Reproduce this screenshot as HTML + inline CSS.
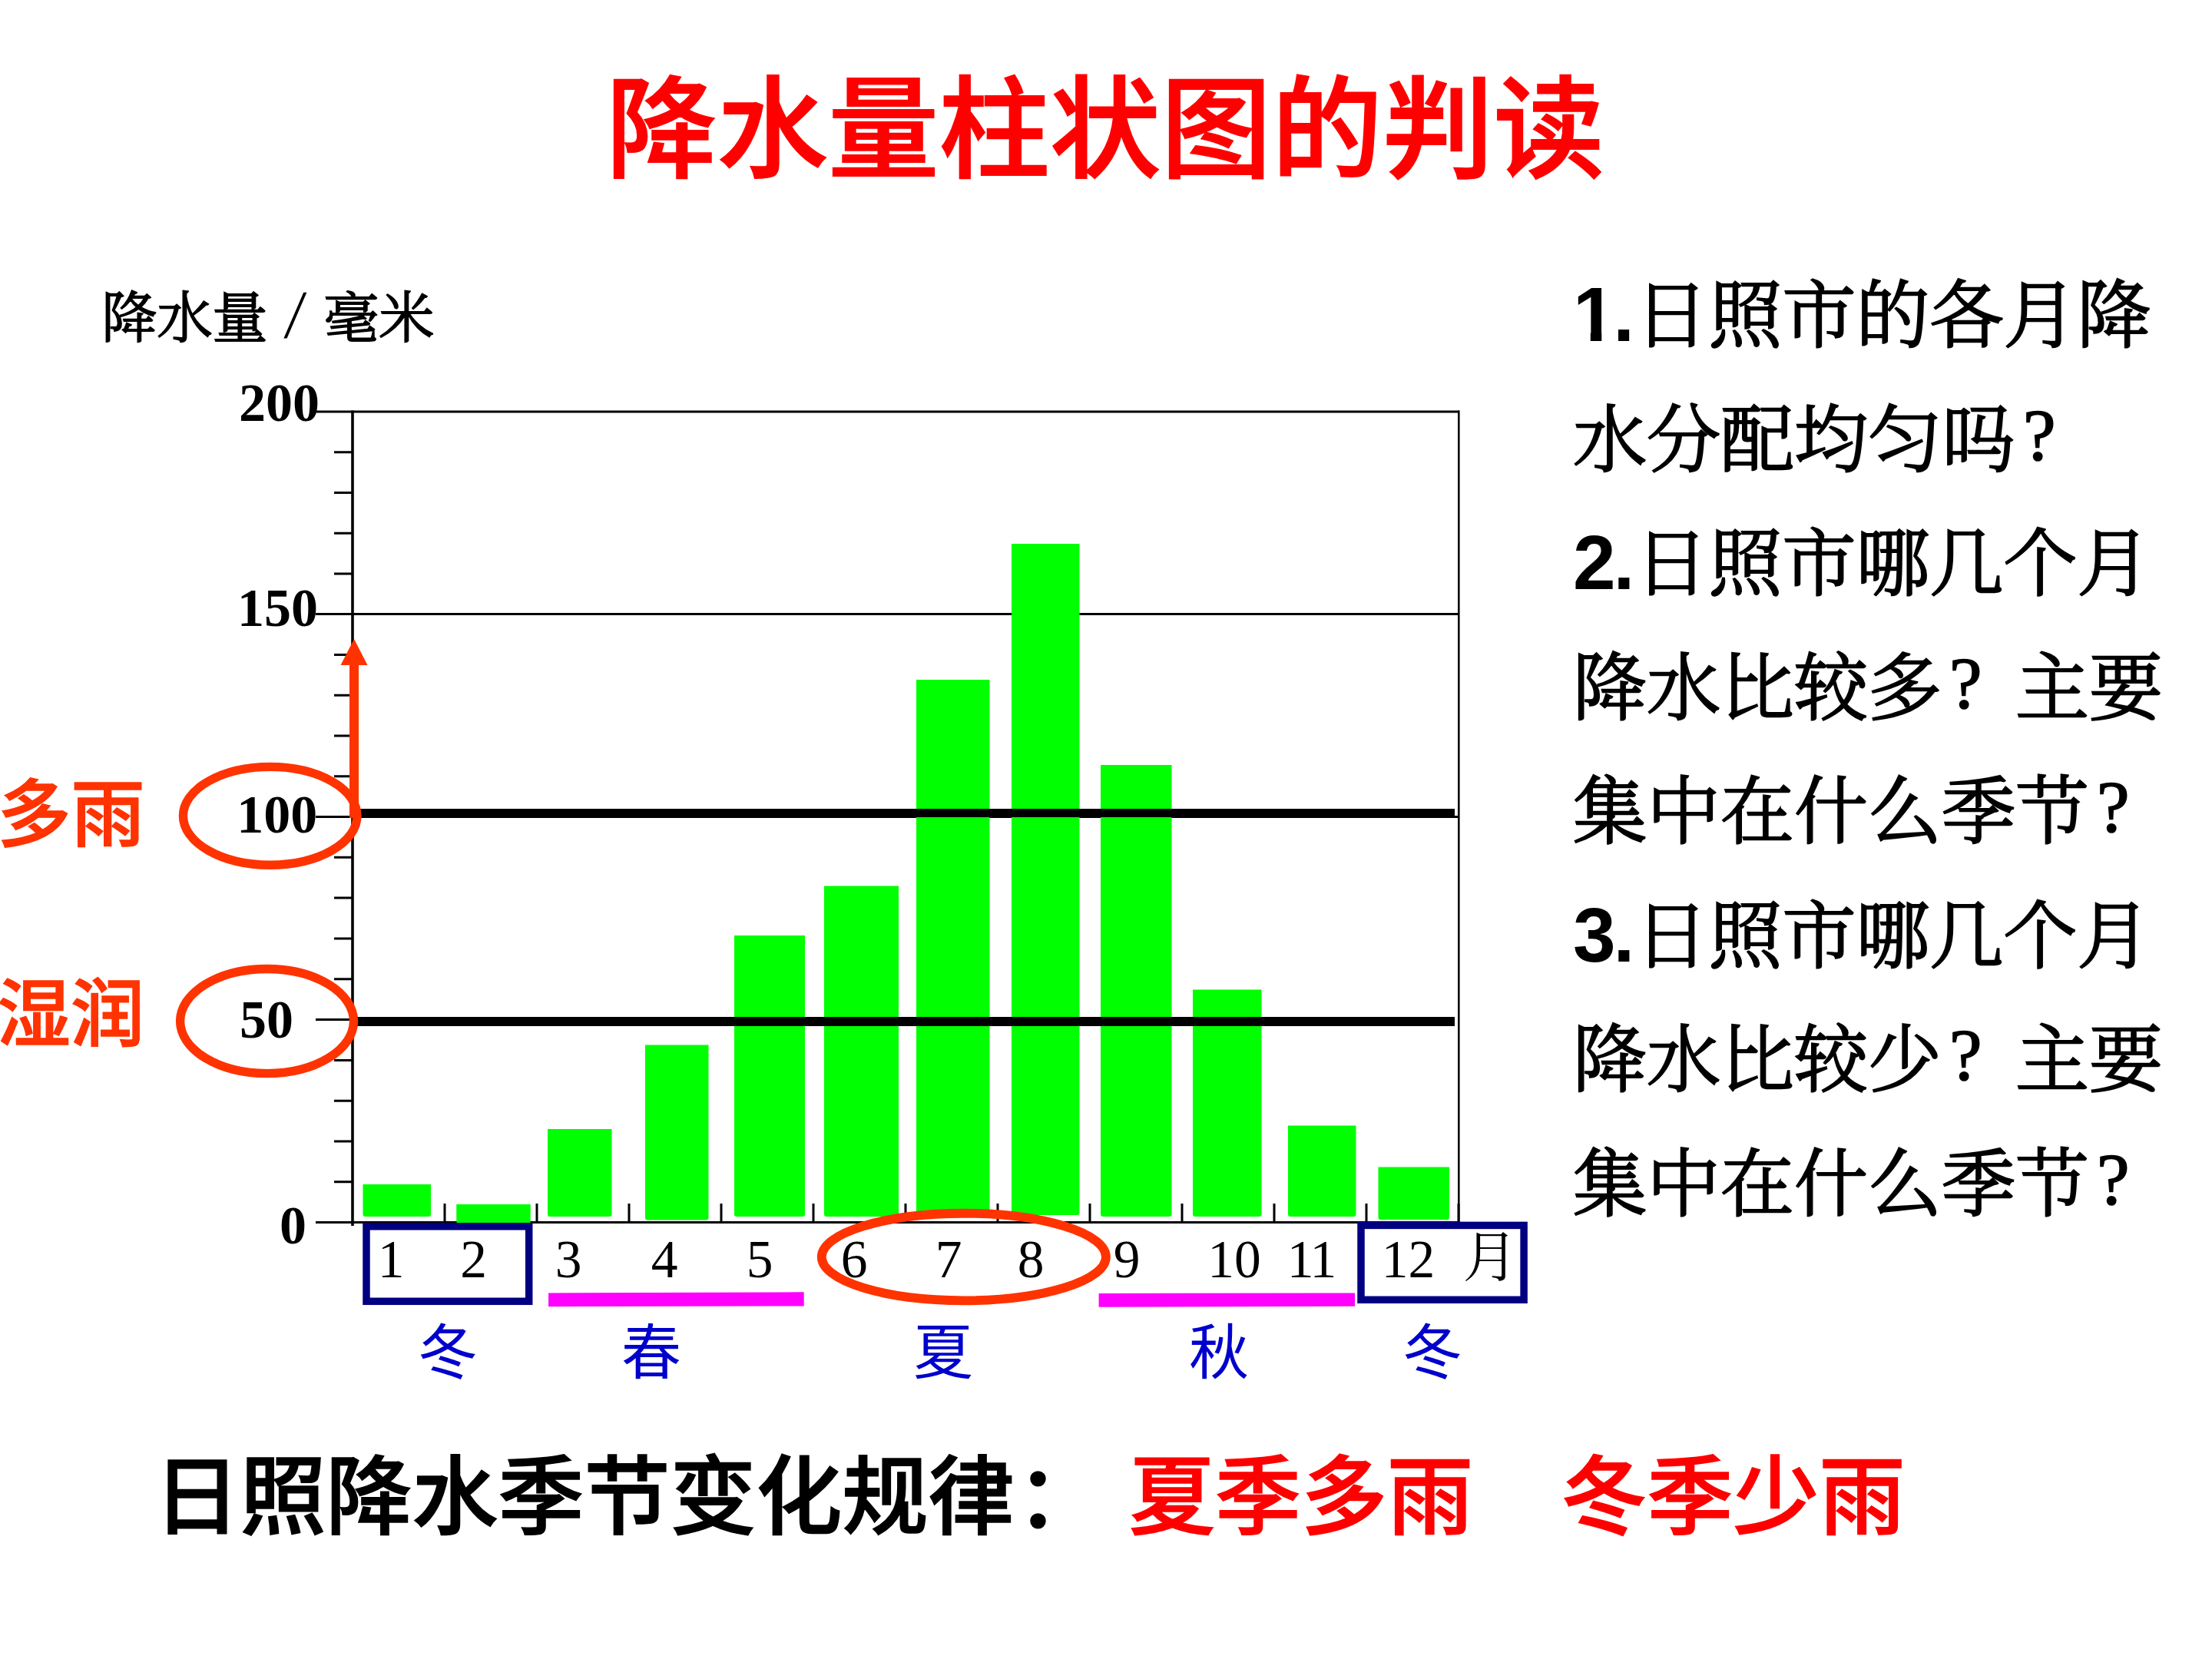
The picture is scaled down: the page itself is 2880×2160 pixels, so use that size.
<!DOCTYPE html>
<html lang="zh-CN">
<head>
<meta charset="utf-8">
<title>降水量柱状图的判读</title>
<style>
html,body{margin:0;padding:0;background:#fff;}
body{width:2880px;height:2160px;position:relative;overflow:hidden;}
.t{position:absolute;white-space:nowrap;line-height:1;margin:0;padding:0;}
.hei{font-family:"Liberation Sans","Noto Sans CJK SC",sans-serif;}
.song{font-family:"Liberation Serif","Noto Serif CJK SC",serif;}
#title{left:789.5px;top:98.5px;letter-spacing:0.4px;font-size:144px;font-weight:500;-webkit-text-stroke:2px #ff0000;color:#ff0000;}
#ylabel{left:132.6px;top:371.5px;font-size:72px;font-weight:300;-webkit-text-stroke:2px #000;color:#000;font-family:"Noto Serif CJK SC",serif;}
#ylabel span{display:inline-block;width:72.8px;text-align:center;font-size:62px;line-height:0;position:relative;top:-10px;left:0px;-webkit-text-stroke:1.5px #000;transform:skewX(-7deg);}
.ynum{font-family:"Liberation Serif",serif;font-weight:700;font-size:70px;color:#000;}
.xnum{font-family:"Liberation Serif",serif;font-weight:400;font-size:69.5px;color:#000;transform:translateX(-50%);}
.season{font-family:"Noto Sans CJK SC",sans-serif;font-weight:400;font-size:78px;color:#0000cc;}
.tag{font-family:"Noto Sans CJK SC",sans-serif;font-weight:500;-webkit-text-stroke:1.4px #ff3300;font-size:96px;color:#ff3300;}
#q{left:2048px;top:322px;font-size:96px;line-height:161.5px;color:#000;font-weight:300;-webkit-text-stroke:2.5px #000;white-space:nowrap;position:absolute;font-family:"Noto Serif CJK SC",serif;}
#q b{font-family:"Liberation Sans",sans-serif;font-weight:700;line-height:0;font-size:100px;-webkit-text-stroke:0;letter-spacing:-1.5px;}
#q b.f{margin-right:2px;}
#q b.g{letter-spacing:-3.2px;margin-right:3.4px;}
#q i{font-family:"Liberation Serif",serif;font-weight:400;font-style:normal;-webkit-text-stroke:1.6px #000;display:inline-block;width:96px;text-indent:10px;line-height:0;position:relative;top:-7px;}
#one{display:inline-block;line-height:100px;margin-right:-2px;clip-path:polygon(0 0,54.2px 0,54.2px 74px,37.3px 74px,37.3px 100px,22.8px 100px,22.8px 74px,0 74px);}
#rule{left:200.6px;top:1895px;font-size:112px;font-weight:500;-webkit-text-stroke:1.6px #000;color:#000;}
#ans{left:1470px;top:1895px;font-size:112px;font-weight:500;-webkit-text-stroke:1.6px #ff0000;color:#ff0000;}
svg{position:absolute;left:0;top:0;}
</style>
</head>
<body>
<svg width="2880" height="2160" viewBox="0 0 2880 2160">
  <!-- grid / frame -->
  <g stroke="#000" stroke-width="3" fill="none">
    <line x1="411" y1="536" x2="1900" y2="536"/>
    <line x1="411" y1="799.5" x2="1900" y2="799.5"/>
    <line x1="411" y1="1063.5" x2="1900" y2="1063.5"/>
    <line x1="411" y1="1327.6" x2="470" y2="1327.6"/>
    <line x1="1899.3" y1="534.5" x2="1899.3" y2="1593" stroke-width="2.6"/>
  </g>
  <!-- bars -->
  <g fill="#00ff00">
    <path d="M472.5 1542H561V1581Q561 1584 558 1584H475.5Q472.5 1584 472.5 1581Z"/>
    <rect x="594.5" y="1568" width="96" height="24"/>
    <path d="M713 1470H796.5V1581Q796.5 1584 793.5 1584H716Q713 1584 713 1581Z"/>
    <path d="M840 1360.5H922.5V1585.5Q922.5 1588.5 919.5 1588.5H843Q840 1588.5 840 1585.5Z"/>
    <path d="M956 1218H1048V1581Q1048 1584 1045 1584H959Q956 1584 956 1581Z"/>
    <path d="M1073 1153.5H1170V1581Q1170 1584 1167 1584H1076Q1073 1584 1073 1581Z"/>
    <path d="M1193 885H1288.5V1581Q1288.5 1584 1285.5 1584H1196Q1193 1584 1193 1581Z"/>
    <path d="M1317 708H1405.5V1579Q1405.5 1582 1402.5 1582H1320Q1317 1582 1317 1579Z"/>
    <path d="M1433 996H1525.5V1581Q1525.5 1584 1522.5 1584H1436Q1433 1584 1433 1581Z"/>
    <path d="M1553 1288.5H1642.5V1581Q1642.5 1584 1639.5 1584H1556Q1553 1584 1553 1581Z"/>
    <path d="M1677 1465.5H1765.5V1581Q1765.5 1584 1762.5 1584H1680Q1677 1584 1677 1581Z"/>
    <path d="M1794.5 1519.5H1887V1585Q1887 1588 1884 1588H1797.5Q1794.5 1588 1794.5 1585Z"/>
  </g>
  <!-- axes -->
  <g stroke="#000" stroke-width="3" fill="none">
    <line x1="459" y1="534.5" x2="459" y2="1596" stroke-width="3.6"/>
    <line x1="411" y1="1591.5" x2="1900" y2="1591.5"/>
  </g>
  <g stroke="#000" stroke-width="3" fill="none" id="yticks">
    <path d="M435 588.7H459M435 641.5H459M435 694.2H459M435 747H459M435 852.5H459M435 905.2H459M435 958H459M435 1010.7H459M435 1116.3H459M435 1169.1H459M435 1222H459M435 1274.8H459M435 1380.4H459M435 1433.2H459M435 1485.9H459M435 1538.7H459"/>
    <path d="M579 1567V1591.5M699 1567V1591.5M819 1567V1591.5M939 1567V1591.5M1059 1567V1591.5M1179 1567V1591.5
             M1299 1567V1591.5M1419 1567V1591.5M1539 1567V1591.5M1659 1567V1591.5M1779 1567V1591.5M1899 1567V1591.5"/>
  </g>
  <!-- bar 2 sits over the axis -->
  <rect x="594.5" y="1568" width="96" height="24" fill="#00ff00"/>
  <!-- thick reference lines -->
  <rect x="468" y="1053" width="1426" height="11" fill="#000"/>
  <rect x="464" y="1324" width="1430" height="12" fill="#000"/>
  <!-- magenta underlines -->
  <polygon points="714.1,1683.5 1046.7,1682.3 1046.7,1700.4 714.1,1701.2" fill="#ff00ff"/>
  <polygon points="1430.6,1684 1764,1683.5 1764,1700.8 1430.6,1701.7" fill="#ff00ff"/>
  <!-- navy boxes -->
  <g stroke="#000080" stroke-width="9.5" fill="none">
    <rect x="477" y="1596.8" width="211.7" height="97.5"/>
    <rect x="1772" y="1595.4" width="212.1" height="96.9"/>
  </g>
  <!-- red ellipses + arrow -->
  <g stroke="#ff3300" stroke-width="11.4" fill="none">
    <ellipse cx="351.65" cy="1062.3" rx="113.25" ry="63.9"/>
    <ellipse cx="347.55" cy="1329.55" rx="112.95" ry="68.05"/>
    <ellipse cx="1254.85" cy="1636.55" rx="185.1" ry="56.8" stroke-width="11.8"/>
  </g>
  <rect x="455" y="860" width="12" height="205" fill="#ff3300"/>
  <polygon points="461,832 478.5,866 443.5,866" fill="#ff3300"/>
</svg>

<div id="title" class="t hei">降水量柱状图的判读</div>
<div id="ylabel" class="t">降水量<span>/</span>毫米</div>

<div class="t ynum" style="left:311px;top:489.7px;">200</div>
<div class="t ynum" style="left:309px;top:757px;">150</div>
<div class="t ynum" style="left:308.3px;top:1025.6px;">100</div>
<div class="t ynum" style="left:311.9px;top:1293.2px;">50</div>
<div class="t ynum" style="left:364px;top:1561px;">0</div>

<div class="t xnum" style="left:509px;top:1605.3px;">1</div>
<div class="t xnum" style="left:616.5px;top:1605.3px;">2</div>
<div class="t xnum" style="left:740px;top:1605.3px;">3</div>
<div class="t xnum" style="left:865px;top:1605.3px;">4</div>
<div class="t xnum" style="left:989px;top:1605.3px;">5</div>
<div class="t xnum" style="left:1112px;top:1605.3px;">6</div>
<div class="t xnum" style="left:1235px;top:1605.3px;">7</div>
<div class="t xnum" style="left:1342px;top:1605.3px;">8</div>
<div class="t xnum" style="left:1467px;top:1605.3px;">9</div>
<div class="t xnum" style="left:1607px;top:1605.3px;">10</div>
<div class="t xnum" style="left:1706.7px;top:1605.3px;letter-spacing:-2.5px;">11</div>
<div class="t xnum" style="left:1833.5px;top:1605.3px;">12</div>
<div class="t" style="left:1904.5px;top:1596px;font-family:'Noto Serif CJK SC',serif;font-weight:400;font-size:71.5px;color:#000;">月</div>

<div class="t season" style="left:544px;top:1716px;">冬</div>
<div class="t season" style="left:809px;top:1716px;">春</div>
<div class="t season" style="left:1189px;top:1716px;">夏</div>
<div class="t season" style="left:1548px;top:1716px;">秋</div>
<div class="t season" style="left:1826px;top:1716px;">冬</div>

<div class="t tag" style="left:-3.5px;top:1005.2px;">多雨</div>
<div class="t tag" style="left:-4px;top:1264.8px;">湿润</div>

<div id="q"><b class="f"><span id="one">1</span>.</b>日照市的各月降<br>水分配均匀吗<i>?</i><br><b class="g">2.</b>日照市哪几个月<br>降水比较多<i>?</i>主要<br>集中在什么季节<i>?</i><br><b class="g">3.</b>日照市哪几个月<br>降水比较少<i>?</i>主要<br>集中在什么季节<i>?</i></div>

<div id="rule" class="t hei">日照降水季节变化规律<span style="position:relative;left:3px;">：</span></div>
<div id="ans" class="t hei">夏季多雨<span style="display:inline-block;width:114.5px;"></span>冬季少雨</div>
</body>
</html>
